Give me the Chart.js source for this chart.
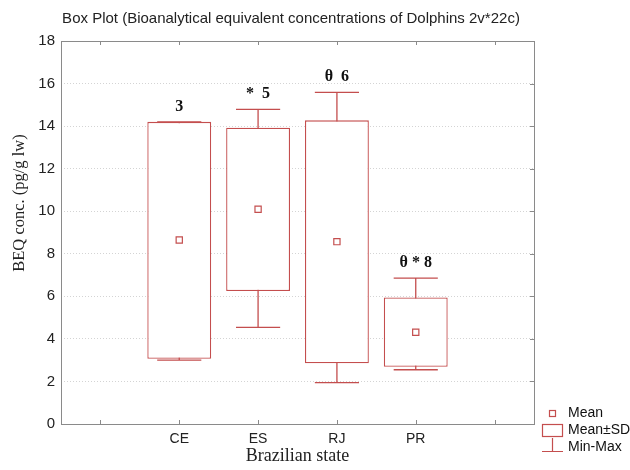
<!DOCTYPE html>
<html lang="en">
<head>
    <meta charset="UTF-8">
    <title>Box Plot - BEQ Dolphins</title>
    <script src="https://cdn.jsdelivr.net/npm/chart.js"></script>
    <style>
        body { margin: 0; background: #fff; }
        #wrap { width: 630px; height: 470px; }
    </style>
</head>
<body>
    <div id="wrap">
        <canvas id="boxPlot" width="630" height="470"></canvas>
    </div>

<script>
    // categories (blank slots at both ends, like the original axis)
    const states = ['', 'CE', 'ES', 'RJ', 'PR', ''];
    // values
    const means  = [null, 8.65, 10.09, 8.57, 4.31, null];
    const sdLow  = [null, 3.07, 6.25, 2.85, 2.69, null];
    const sdHigh = [null, 14.2, 13.92, 14.27, 5.95, null];
    const mins   = [null, 3.0, 4.54, 1.94, 2.55, null];
    const maxs   = [null, 14.2, 14.79, 15.59, 6.86, null];
    const marks  = ['', '3', '*  5', '\u03B8  6', '\u03B8 * 8', ''];

    const red = 'rgb(196, 78, 78)';
    const axisGray = '#8a8a8a';

    // frame, inner ticks, whiskers, labels and legend
    const decor = {
        id: 'decor',
        beforeDatasetsDraw(chart) {
            const ctx = chart.ctx;
            const x = chart.scales.x, y = chart.scales.y;
            const step = x.getPixelForValue(1) - x.getPixelForValue(0);
            const half = step * 0.28;
            ctx.save();
            ctx.strokeStyle = red;
            ctx.lineWidth = 1.3;
            for (let i = 0; i < states.length; i++) {
                if (mins[i] == null) continue;
                const cx = x.getPixelForValue(i);
                const yMin = y.getPixelForValue(mins[i]);
                const yMax = y.getPixelForValue(maxs[i]);
                ctx.beginPath();
                ctx.moveTo(cx, yMin); ctx.lineTo(cx, yMax);
                ctx.moveTo(cx - half, yMin); ctx.lineTo(cx + half, yMin);
                ctx.moveTo(cx - half, yMax); ctx.lineTo(cx + half, yMax);
                ctx.stroke();
            }
            ctx.restore();
        },
        afterDraw(chart) {
            const ctx = chart.ctx;
            const a = chart.chartArea;
            const x = chart.scales.x, y = chart.scales.y;
            ctx.save();

            // frame
            ctx.strokeStyle = axisGray;
            ctx.lineWidth = 1;
            ctx.strokeRect(a.left + 0.5, a.top + 0.5, a.right - a.left, a.bottom - a.top);

            // inner ticks
            ctx.beginPath();
            for (let i = 0; i < states.length; i++) {
                const px = Math.round(x.getPixelForValue(i)) + 0.5;
                ctx.moveTo(px, a.bottom); ctx.lineTo(px, a.bottom - 4);
                ctx.moveTo(px, a.top); ctx.lineTo(px, a.top + 4);
            }
            for (let v = 2; v < 18; v += 2) {
                const py = Math.round(y.getPixelForValue(v)) + 0.5;
                ctx.moveTo(a.right, py); ctx.lineTo(a.right - 4, py);
            }
            ctx.stroke();

            // labels above whiskers
            ctx.fillStyle = '#111';
            ctx.font = 'bold 16px "Liberation Serif"';
            ctx.textAlign = 'center';
            ctx.textBaseline = 'middle';
            for (let i = 0; i < states.length; i++) {
                if (!marks[i]) continue;
                ctx.fillText(marks[i], x.getPixelForValue(i), y.getPixelForValue(maxs[i]) - 15);
            }

            // title
            ctx.font = '15px "Liberation Sans"';
            ctx.fillStyle = '#222';
            ctx.fillText('Box Plot (Bioanalytical equivalent concentrations of Dolphins 2v*22c)', 291, 19);

            // axis titles
            ctx.font = '18px "Liberation Serif"';
            ctx.fillText('Brazilian state', (a.left + a.right) / 2, 456);
            ctx.save();
            ctx.translate(20, 203);
            ctx.rotate(-Math.PI / 2);
            ctx.font = '16.5px "Liberation Serif"';
            ctx.fillText('BEQ conc. (pg/g lw)', 0, 0);
            ctx.restore();

            // legend
            ctx.strokeStyle = red;
            ctx.lineWidth = 1.2;
            ctx.strokeRect(549.5, 410.5, 6, 6);
            ctx.strokeRect(542.5, 424.5, 20, 12);
            ctx.beginPath();
            ctx.moveTo(552.5, 438); ctx.lineTo(552.5, 451.5);
            ctx.moveTo(542, 451.5); ctx.lineTo(563, 451.5);
            ctx.stroke();
            ctx.font = '14px "Liberation Sans"';
            ctx.fillStyle = '#111';
            ctx.textAlign = 'left';
            ctx.fillText('Mean', 568, 413);
            ctx.fillText('Mean\u00B1SD', 568, 430);
            ctx.fillText('Min-Max', 568, 447);

            ctx.restore();
        }
    };

    new Chart(document.getElementById('boxPlot'), {
        data: {
            labels: states,
            datasets: [
                {
                    type: 'line',
                    label: 'Mean',
                    data: means,
                    showLine: false,
                    pointStyle: 'rect',
                    pointRadius: 4.4,
                    pointBorderWidth: 1.2,
                    pointBorderColor: red,
                    pointBackgroundColor: '#fff',
                    order: 0
                },
                {
                    type: 'bar',
                    label: 'Mean\u00B1SD',
                    data: sdLow.map((lo, i) => lo == null ? null : [lo, sdHigh[i]]),
                    backgroundColor: '#fff',
                    borderColor: red,
                    borderWidth: 1.3,
                    borderSkipped: false,
                    barPercentage: 0.81,
                    categoryPercentage: 1,
                    order: 1
                }
            ]
        },
        options: {
            responsive: false,
            animation: false,
            layout: { padding: { left: 0, top: 41, right: 96, bottom: 0 } },
            plugins: {
                legend: { display: false },
                tooltip: { enabled: false }
            },
            scales: {
                x: {
                    offset: true,
                    grid: { display: false, drawTicks: false },
                    border: { display: false },
                    ticks: {
                        color: '#222',
                        padding: 7,
                        font: { family: 'Liberation Sans', size: 14 }
                    },
                    afterFit: s => { s.height = 46; }
                },
                y: {
                    min: 0,
                    max: 18,
                    grid: { color: '#d4d4d4', drawTicks: false },
                    border: { display: false, dash: [1, 2] },
                    ticks: {
                        stepSize: 2,
                        color: '#222',
                        padding: 6,
                        font: { family: 'Liberation Sans', size: 15 }
                    },
                    afterFit: s => { s.width = 61; }
                }
            }
        },
        plugins: [decor]
    });
</script>
</body>
</html>
